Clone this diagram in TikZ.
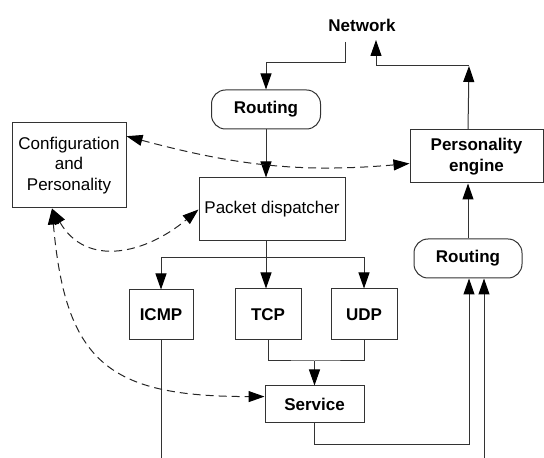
\documentclass[tikz,border=0pt]{standalone}
\usepackage{fontspec}
\setmainfont{Liberation Sans}
\usetikzlibrary{arrows.meta}
\begin{document}
\begin{tikzpicture}[x=1pt,y=1pt,
	txt/.style={font=\fontsize{17}{20.5}\selectfont,align=center,inner sep=0pt},
	btxt/.style={txt,font=\fontsize{17}{20.5}\selectfont\bfseries},
	box/.style={txt,draw=black!80,line width=1pt},
	bbox/.style={btxt,draw=black!80,line width=1pt},
	route/.style={bbox,rounded corners=14pt},
	arr/.style={draw=black!80,line width=1pt,-{Triangle[length=16pt,width=11pt,color=black]}},
	link/.style={draw=black!80,line width=1pt},
	dual/.style={draw=black!85,line width=1pt,dash pattern=on 8pt off 5pt,{Triangle[length=16pt,width=11pt,color=black]}-{Triangle[length=16pt,width=11pt,color=black]}}]
	\useasboundingbox (0,0) rectangle (544,458);
	\node[btxt] (net) at (362,433) {Network}; % Network
\node[route,minimum width=109pt,minimum height=39pt] (route1) at (266,348.5) {Routing}; % Routing.in
\node[box,minimum width=114pt,minimum height=85pt] (config) at (69,292.5) {Configuration\\and\\Personality}; % Config
\node[bbox,minimum width=133pt,minimum height=53pt] (engine) at (476.5,301.5) {Personality\\engine}; % Engine
\node[box,minimum width=146pt,minimum height=63pt] (disp) at (272,248.5) {Packet dispatcher}; % Dispatcher
\node[route,minimum width=108pt,minimum height=39pt] (route2) at (468,199.5) {Routing}; % Routing.out
\node[bbox,minimum width=64pt,minimum height=50pt] (icmp) at (161,143) {ICMP}; % ICMP
\node[bbox,minimum width=66pt,minimum height=51pt] (tcp) at (268,143.5) {TCP}; % TCP
\node[bbox,minimum width=66pt,minimum height=51pt] (udp) at (364,143.5) {UDP}; % UDP
\node[bbox,minimum width=99pt,minimum height=37pt] (serv) at (314.5,53.5) {Service}; % Service
\coordinate (netin) at (345,416); % from network
\coordinate (netout) at (376,418); % to network
\coordinate (top) at (469,392); % engine out
\coordinate (split) at (266,200); % dispatcher fan
\coordinate (join) at (314.5,97); % tcp+udp
\coordinate (sback) at (469,13); % service back
\coordinate (in2) at (484,0); % lower input
\coordinate (out1) at (160,0); % icmp out
\coordinate (cfgbot) at ([xshift=-17pt]config.south); % config foot
\draw[arr] (netin) -- ++(0,-21) -| (route1.north); % net->route1
\draw[arr] (route1.south) -- (route1 |- disp.north); % route1->disp
\draw[arr] (route1 |- disp.south) -- (route1 |- tcp.north); % disp->tcp
\draw[arr] (split) -| (icmp.north); % disp->icmp
\draw[arr] (split) -| (udp.north); % disp->udp
\draw[link] (tcp.south) |- (join) -| (udp.south); % tcp,udp
\draw[arr] (join) -- (serv.north); % ->service
\draw[arr] (serv.south) |- (sback) -- (sback |- route2.south); % service->route2
\draw[arr] (in2) -- (in2 |- route2.south); % in2->route2
\draw[link] (icmp.south) -- (icmp.south |- out1); % icmp out
\draw[arr] (route2.north) -- (route2.north |- engine.south); % route2->engine
\draw[arr] (route2.north |- engine.north) -- (top); % engine up
\draw[arr] (top) -| (netout); % ->network
\draw[dual] (config.27) to[out=-15,in=185] (engine.186); % config<->engine
\draw[dual] (cfgbot) to[out=-60,in=220,looseness=1.2] (disp.west); % config<->disp
\draw[dual] (cfgbot) to[out=-85,in=180,looseness=1.4] (serv.171); % config<->service

	\end{tikzpicture}
\end{document}
